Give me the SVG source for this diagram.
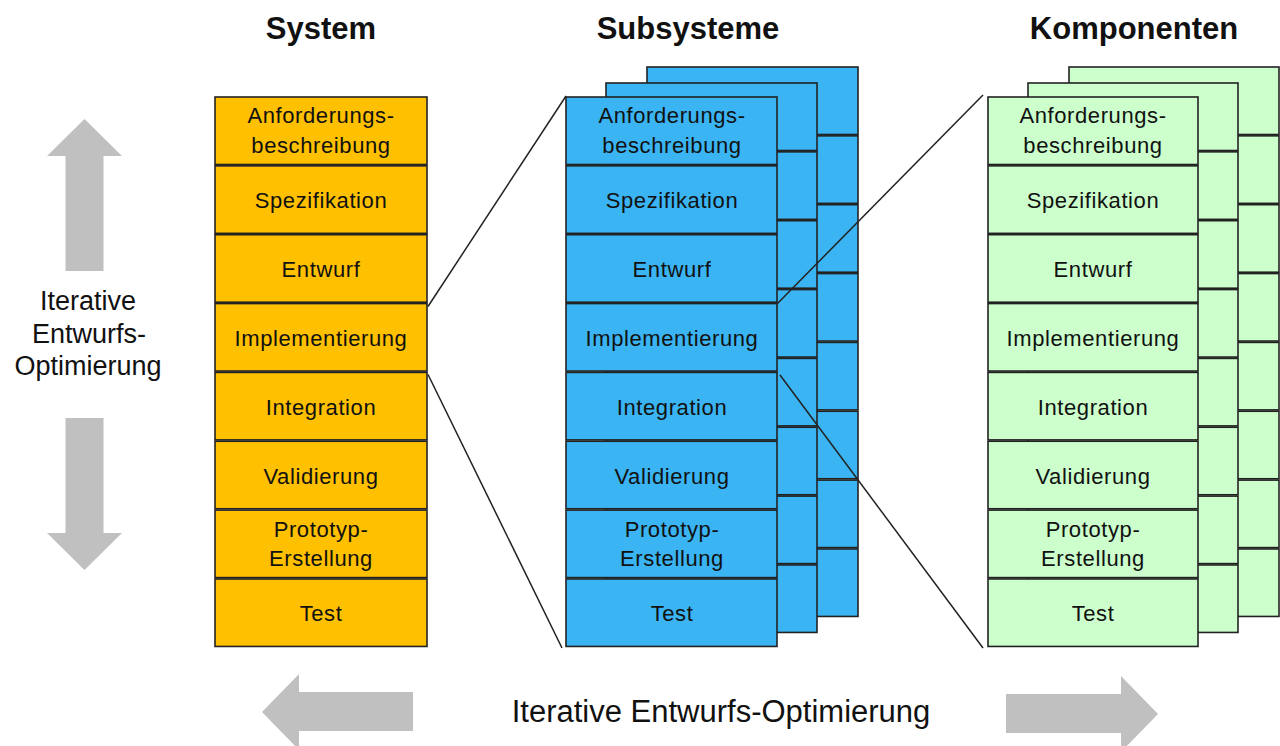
<svg xmlns="http://www.w3.org/2000/svg" xmlns:xlink="http://www.w3.org/1999/xlink" width="1280" height="746" viewBox="0 0 1280 746">
<style>
.row{stroke:#222;stroke-width:1.6}
.sys{fill:#FFC000}
.sub{fill:#3AB4F2}
.kom{fill:#CCFFCC}
.t{font-family:"Liberation Sans",Arial,sans-serif;font-size:22px;letter-spacing:0.6px;fill:#111;text-anchor:middle}
.h{font-family:"Liberation Sans",Arial,sans-serif;font-size:31px;font-weight:bold;fill:#111;text-anchor:middle}
.lbl{font-family:"Liberation Sans",Arial,sans-serif;font-size:27px;fill:#111;text-anchor:middle}
.arr{fill:#C0C0C0}
.con{stroke:#222;stroke-width:1.5;fill:none}
</style>
<defs>
<g id="rows211">
<rect class="row" x="0" y="0" width="211" height="67.5"/>
<rect class="row" x="0" y="68.85" width="211" height="67.5"/>
<rect class="row" x="0" y="137.7" width="211" height="67.5"/>
<rect class="row" x="0" y="206.55" width="211" height="67.5"/>
<rect class="row" x="0" y="275.4" width="211" height="67.5"/>
<rect class="row" x="0" y="344.25" width="211" height="67.5"/>
<rect class="row" x="0" y="413.1" width="211" height="67.5"/>
<rect class="row" x="0" y="481.95" width="211" height="67.5"/>
</g>
<g id="rows210">
<rect class="row" x="0" y="0" width="210" height="67.5"/>
<rect class="row" x="0" y="68.85" width="210" height="67.5"/>
<rect class="row" x="0" y="137.7" width="210" height="67.5"/>
<rect class="row" x="0" y="206.55" width="210" height="67.5"/>
<rect class="row" x="0" y="275.4" width="210" height="67.5"/>
<rect class="row" x="0" y="344.25" width="210" height="67.5"/>
<rect class="row" x="0" y="413.1" width="210" height="67.5"/>
<rect class="row" x="0" y="481.95" width="210" height="67.5"/>
</g>
</defs>
<rect x="0" y="0" width="1280" height="746" fill="#fff"/>

<!-- headers -->
<g id="headers">
<text class="h" x="321" y="39">System</text>
<text class="h" x="688" y="39">Subsysteme</text>
<text class="h" x="1134" y="39">Komponenten</text>
</g>

<!-- side arrows and labels -->
<g id="vertical-iteration">
<polygon class="arr" points="84.5,119 122,156 103.5,156 103.5,271 65.5,271 65.5,156 47,156"/>
<polygon class="arr" points="65.5,418 103.5,418 103.5,533 122,533 84.5,570 47,533 65.5,533"/>
<text class="lbl" x="88" y="310">Iterative</text>
<text class="lbl" x="89" y="343">Entwurfs-</text>
<text class="lbl" x="88" y="375">Optimierung</text>
</g>
<g id="horizontal-iteration">
<polygon class="arr" points="262,712 299,674 299,692 413,692 413,731 299,731 299,750"/>
<polygon class="arr" points="1158,714 1121,676 1121,694 1006,694 1006,733 1121,733 1121,752"/>
<text x="721" y="722" style="font-family:'Liberation Sans',Arial,sans-serif;font-size:31px;fill:#111;text-anchor:middle">Iterative Entwurfs-Optimierung</text>
</g>

<!-- System -->
<g id="system">
<g id="sys-1"><rect class="row sys" x="215" y="97" width="212" height="67.5"/><text class="t" x="321" y="123.4">Anforderungs-</text><text class="t" x="321" y="152.9">beschreibung</text></g>
<g id="sys-2"><rect class="row sys" x="215" y="165.85" width="212" height="67.5"/><text class="t" x="321" y="208.25">Spezifikation</text></g>
<g id="sys-3"><rect class="row sys" x="215" y="234.7" width="212" height="67.5"/><text class="t" x="321" y="277.1">Entwurf</text></g>
<g id="sys-4"><rect class="row sys" x="215" y="303.55" width="212" height="67.5"/><text class="t" x="321" y="345.95">Implementierung</text></g>
<g id="sys-5"><rect class="row sys" x="215" y="372.4" width="212" height="67.5"/><text class="t" x="321" y="414.8">Integration</text></g>
<g id="sys-6"><rect class="row sys" x="215" y="441.25" width="212" height="67.5"/><text class="t" x="321" y="483.65">Validierung</text></g>
<g id="sys-7"><rect class="row sys" x="215" y="510.1" width="212" height="67.5"/><text class="t" x="321" y="536.5">Prototyp-</text><text class="t" x="321" y="566">Erstellung</text></g>
<g id="sys-8"><rect class="row sys" x="215" y="578.95" width="212" height="67.5"/><text class="t" x="321" y="621.35">Test</text></g>
</g>

<!-- Subsysteme -->
<g id="subsysteme">
<use id="sub-layer-3" xlink:href="#rows211" href="#rows211" x="647" y="67" fill="#3AB4F2"/>
<use id="sub-layer-2" xlink:href="#rows211" href="#rows211" x="606" y="83" fill="#3AB4F2"/>
<g id="sub-1"><rect class="row sub" x="566" y="97" width="211" height="67.5"/><text class="t" x="672" y="123.4">Anforderungs-</text><text class="t" x="672" y="152.9">beschreibung</text></g>
<g id="sub-2"><rect class="row sub" x="566" y="165.85" width="211" height="67.5"/><text class="t" x="672" y="208.25">Spezifikation</text></g>
<g id="sub-3"><rect class="row sub" x="566" y="234.7" width="211" height="67.5"/><text class="t" x="672" y="277.1">Entwurf</text></g>
<g id="sub-4"><rect class="row sub" x="566" y="303.55" width="211" height="67.5"/><text class="t" x="672" y="345.95">Implementierung</text></g>
<g id="sub-5"><rect class="row sub" x="566" y="372.4" width="211" height="67.5"/><text class="t" x="672" y="414.8">Integration</text></g>
<g id="sub-6"><rect class="row sub" x="566" y="441.25" width="211" height="67.5"/><text class="t" x="672" y="483.65">Validierung</text></g>
<g id="sub-7"><rect class="row sub" x="566" y="510.1" width="211" height="67.5"/><text class="t" x="672" y="536.5">Prototyp-</text><text class="t" x="672" y="566">Erstellung</text></g>
<g id="sub-8"><rect class="row sub" x="566" y="578.95" width="211" height="67.5"/><text class="t" x="672" y="621.35">Test</text></g>
</g>

<!-- Komponenten -->
<g id="komponenten">
<use id="kom-layer-3" xlink:href="#rows210" href="#rows210" x="1069" y="67" fill="#CCFFCC"/>
<use id="kom-layer-2" xlink:href="#rows210" href="#rows210" x="1028" y="83" fill="#CCFFCC"/>
<g id="kom-1"><rect class="row kom" x="988" y="97" width="210" height="67.5"/><text class="t" x="1093" y="123.4">Anforderungs-</text><text class="t" x="1093" y="152.9">beschreibung</text></g>
<g id="kom-2"><rect class="row kom" x="988" y="165.85" width="210" height="67.5"/><text class="t" x="1093" y="208.25">Spezifikation</text></g>
<g id="kom-3"><rect class="row kom" x="988" y="234.7" width="210" height="67.5"/><text class="t" x="1093" y="277.1">Entwurf</text></g>
<g id="kom-4"><rect class="row kom" x="988" y="303.55" width="210" height="67.5"/><text class="t" x="1093" y="345.95">Implementierung</text></g>
<g id="kom-5"><rect class="row kom" x="988" y="372.4" width="210" height="67.5"/><text class="t" x="1093" y="414.8">Integration</text></g>
<g id="kom-6"><rect class="row kom" x="988" y="441.25" width="210" height="67.5"/><text class="t" x="1093" y="483.65">Validierung</text></g>
<g id="kom-7"><rect class="row kom" x="988" y="510.1" width="210" height="67.5"/><text class="t" x="1093" y="536.5">Prototyp-</text><text class="t" x="1093" y="566">Erstellung</text></g>
<g id="kom-8"><rect class="row kom" x="988" y="578.95" width="210" height="67.5"/><text class="t" x="1093" y="621.35">Test</text></g>
</g>

<!-- connectors -->
<g id="connectors">
<line class="con" x1="428" y1="306.5" x2="566" y2="96"/>
<line class="con" x1="428" y1="374.5" x2="562" y2="648"/>
<line class="con" x1="777" y1="304" x2="983" y2="95"/>
<line class="con" x1="780" y1="375" x2="983" y2="648"/>
</g>
</svg>
